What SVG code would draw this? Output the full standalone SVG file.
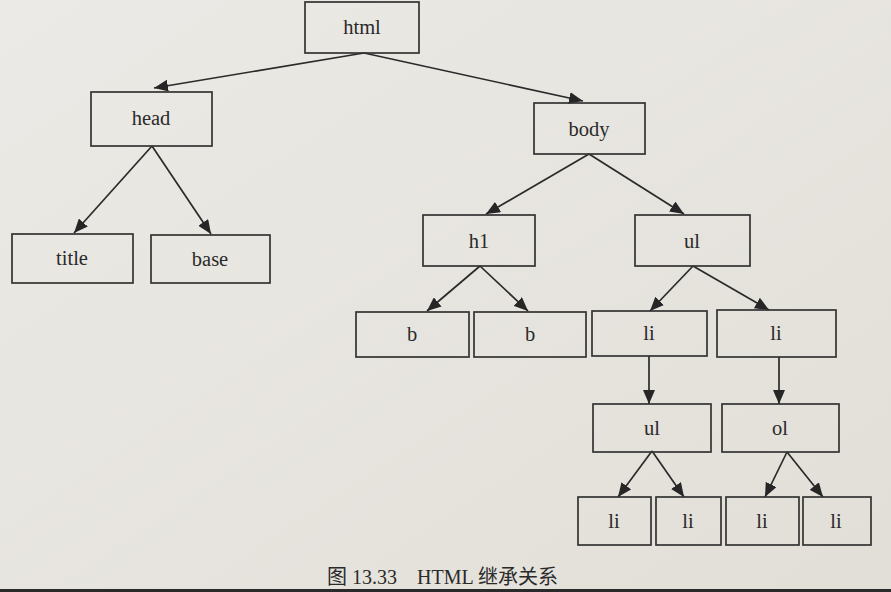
<svg xmlns="http://www.w3.org/2000/svg" width="891" height="592" viewBox="0 0 891 592">
<defs>
<linearGradient id="bg" x1="0" y1="0" x2="1" y2="1">
<stop offset="0" stop-color="#eceae6"/>
<stop offset="1" stop-color="#e2dfd8"/>
</linearGradient>
<marker id="ah" viewBox="0 0 14 12" refX="14" refY="6" markerWidth="14" markerHeight="12" markerUnits="userSpaceOnUse" orient="auto">
<path d="M0,0 L14,6 L0,12 Z" fill="#262626"/>
</marker>
<style>
.box{fill:none;stroke:#333;stroke-width:1.7}
.lbl{font-family:"Liberation Serif","Times New Roman",serif;font-size:20.5px;fill:#2a2a2a;text-anchor:middle;dominant-baseline:central}
.edge{stroke:#2a2a2a;stroke-width:1.7;fill:none;marker-end:url(#ah)}
.cap{font-family:"Liberation Serif","Noto Sans CJK SC",serif;font-size:20px;fill:#2a2a2a}
</style>
</defs>
<rect x="0" y="0" width="891" height="592" fill="url(#bg)"/>
<rect x="0" y="589" width="891" height="3" fill="#2a2a2a"/>

<g id="connectors">
<line class="edge" x1="364" y1="53" x2="154" y2="88"/>
<line class="edge" x1="364" y1="53" x2="583" y2="101"/>
<line class="edge" x1="152" y1="146" x2="74" y2="233"/>
<line class="edge" x1="152" y1="146" x2="211" y2="234"/>
<line class="edge" x1="589" y1="154" x2="486" y2="214"/>
<line class="edge" x1="589" y1="154" x2="684" y2="214"/>
<line class="edge" x1="480" y1="266" x2="427" y2="311"/>
<line class="edge" x1="480" y1="266" x2="528" y2="311"/>
<line class="edge" x1="693" y1="266" x2="650" y2="311"/>
<line class="edge" x1="693" y1="266" x2="769" y2="310"/>
<line class="edge" x1="649" y1="356" x2="649" y2="404"/>
<line class="edge" x1="779" y1="357" x2="779" y2="404"/>
<line class="edge" x1="652" y1="451" x2="618" y2="497"/>
<line class="edge" x1="652" y1="451" x2="684" y2="497"/>
<line class="edge" x1="787" y1="452" x2="765" y2="497"/>
<line class="edge" x1="787" y1="452" x2="823" y2="497"/>
</g>

<g id="n-html"><rect class="box" x="305" y="2" width="114" height="51"/><text class="lbl" x="362" y="27">html</text></g>
<g id="n-head"><rect class="box" x="91" y="92" width="121" height="54"/><text class="lbl" x="151" y="118">head</text></g>
<g id="n-body"><rect class="box" x="534" y="103" width="111" height="51"/><text class="lbl" x="589" y="129">body</text></g>
<g id="n-title"><rect class="box" x="12" y="234" width="121" height="49"/><text class="lbl" x="72" y="258">title</text></g>
<g id="n-base"><rect class="box" x="151" y="235" width="119" height="48"/><text class="lbl" x="210" y="259">base</text></g>
<g id="n-h1"><rect class="box" x="423" y="215" width="112" height="51"/><text class="lbl" x="479" y="241">h1</text></g>
<g id="n-ul"><rect class="box" x="635" y="215" width="115" height="51"/><text class="lbl" x="692" y="241">ul</text></g>
<g id="n-b1"><rect class="box" x="356" y="312" width="113" height="45"/><text class="lbl" x="412" y="334">b</text></g>
<g id="n-b2"><rect class="box" x="474" y="312" width="112" height="45"/><text class="lbl" x="530" y="334">b</text></g>
<g id="n-li1"><rect class="box" x="592" y="311" width="115" height="45"/><text class="lbl" x="649" y="333">li</text></g>
<g id="n-li2"><rect class="box" x="717" y="310" width="119" height="47"/><text class="lbl" x="776" y="333">li</text></g>
<g id="n-ul2"><rect class="box" x="593" y="404" width="118" height="48"/><text class="lbl" x="652" y="428">ul</text></g>
<g id="n-ol"><rect class="box" x="722" y="404" width="117" height="48"/><text class="lbl" x="780" y="428">ol</text></g>
<g id="n-li3"><rect class="box" x="578" y="497" width="73" height="48"/><text class="lbl" x="614" y="521">li</text></g>
<g id="n-li4"><rect class="box" x="656" y="497" width="65" height="48"/><text class="lbl" x="688" y="521">li</text></g>
<g id="n-li5"><rect class="box" x="726" y="497" width="73" height="48"/><text class="lbl" x="762" y="521">li</text></g>
<g id="n-li6"><rect class="box" x="803" y="497" width="68" height="48"/><text class="lbl" x="836" y="521">li</text></g>

<text class="cap" x="327" y="584">图 13.33<tspan x="417">HTML 继承关系</tspan></text>
</svg>
